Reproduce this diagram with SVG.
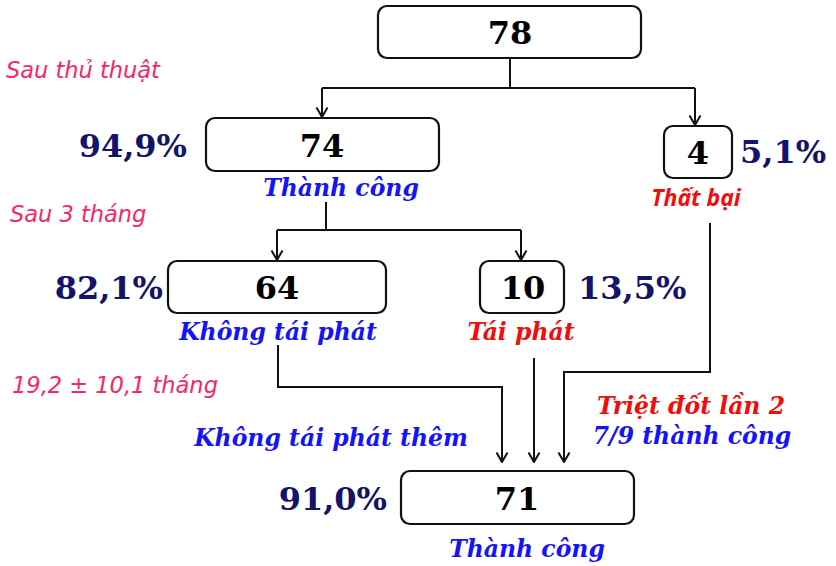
<svg xmlns="http://www.w3.org/2000/svg" width="836" height="566" viewBox="0 0 836 566">
  <defs>
    <marker id="arrowDown" markerUnits="userSpaceOnUse" markerWidth="14" markerHeight="12" refX="7" refY="11" viewBox="0 0 14 12">
      <path d="M1.5,1.5 L7,11 L12.5,1.5" fill="none" stroke="#111" stroke-width="2"/>
    </marker>
  </defs>
  <style>
    .box { fill: #fff; stroke: #111; stroke-width: 2.2; }
    .num { font-family: "DejaVu Serif", "Liberation Serif", serif; font-weight: bold; font-size: 32px; fill: #000; text-anchor: middle; }
    .pct { font-family: "DejaVu Serif", "Liberation Serif", serif; font-weight: bold; font-size: 32px; fill: #13136b; }
    .lbl { font-family: "DejaVu Serif", "Liberation Serif", serif; font-weight: bold; font-style: italic; font-size: 23.5px; text-anchor: middle; }
    .blue { fill: #1414f5; }
    .red { fill: #f20d0d; }
    .time { font-family: "DejaVu Sans", sans-serif; font-style: italic; font-size: 22.5px; fill: #f5266a; }
    .link { fill: none; stroke: #111; stroke-width: 2; }
  </style>

  <!-- time annotations -->
  <text class="time" x="6" y="78">Sau thủ thuật</text>
  <text class="time" x="10" y="222">Sau 3 tháng</text>
  <text class="time" x="12" y="393">19,2 ± 10,1 tháng</text>

  <!-- connectors -->
  <g id="connectors">
    <path class="link" d="M510,58 V88"/>
    <path class="link" d="M322,88 H695"/>
    <path class="link" d="M322,88 V117" marker-end="url(#arrowDown)"/>
    <path class="link" d="M695,88 V125" marker-end="url(#arrowDown)"/>
    <path class="link" d="M326,202 V230"/>
    <path class="link" d="M277,230 H521"/>
    <path class="link" d="M277,230 V260" marker-end="url(#arrowDown)"/>
    <path class="link" d="M521,230 V260" marker-end="url(#arrowDown)"/>
    <path class="link" d="M278,345 V387 H502 V462" marker-end="url(#arrowDown)"/>
    <path class="link" d="M534,358 V462" marker-end="url(#arrowDown)"/>
    <path class="link" d="M710,223 V372 H564 V462" marker-end="url(#arrowDown)"/>
  </g>

  <!-- root -->
  <g id="node-78">
    <rect class="box" x="378" y="6" width="263" height="52" rx="9"/>
    <text class="num" x="510" y="44">78</text>
  </g>

  <!-- after procedure: success -->
  <g id="node-74">
    <rect class="box" x="206" y="118" width="233" height="53" rx="9"/>
    <text class="num" x="322" y="157">74</text>
    <text class="pct" x="187" y="157" text-anchor="end">94,9%</text>
    <text class="lbl blue" x="341" y="196">Thành công</text>
  </g>

  <!-- after procedure: failure -->
  <g id="node-4">
    <rect class="box" x="664" y="126" width="68" height="52" rx="9"/>
    <text class="num" x="698" y="164">4</text>
    <text class="pct" x="740" y="163">5,1%</text>
    <text x="696" y="206" text-anchor="middle" font-family="Open Sans, Liberation Sans, sans-serif" font-weight="bold" font-style="italic" font-size="23" fill="#f20d0d">Thất bại</text>
  </g>

  <!-- 3 months: no recurrence -->
  <g id="node-64">
    <rect class="box" x="168" y="261" width="218" height="52" rx="9"/>
    <text class="num" x="277" y="299">64</text>
    <text class="pct" x="163" y="299" text-anchor="end">82,1%</text>
    <text class="lbl blue" x="278" y="340">Không tái phát</text>
  </g>

  <!-- 3 months: recurrence -->
  <g id="node-10">
    <rect class="box" x="480" y="261" width="84" height="52" rx="9"/>
    <text class="num" x="523" y="299">10</text>
    <text class="pct" x="578" y="299">13,5%</text>
    <text class="lbl red" x="521" y="340">Tái phát</text>
  </g>

  <!-- path labels -->
  <g id="labels">
    <text class="lbl blue" x="331" y="446">Không tái phát thêm</text>
    <text class="lbl red" x="691" y="414">Triệt đốt lần 2</text>
    <text class="lbl blue" x="692" y="444">7/9 thành công</text>
  </g>

  <!-- final outcome -->
  <g id="node-71">
    <rect class="box" x="401" y="471" width="233" height="53" rx="9"/>
    <text class="num" x="517" y="510">71</text>
    <text class="pct" x="387" y="510" text-anchor="end">91,0%</text>
    <text class="lbl blue" x="527" y="557">Thành công</text>
  </g>
</svg>
